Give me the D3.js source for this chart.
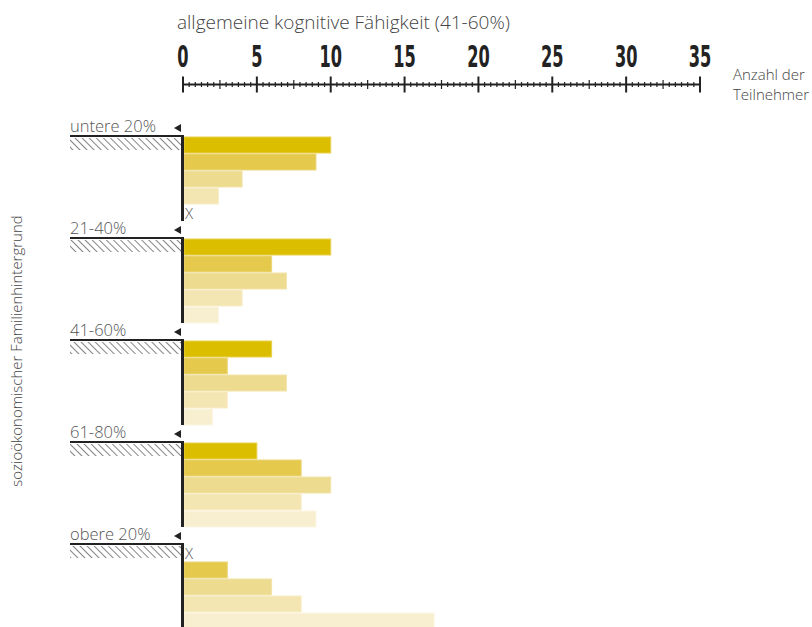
<!DOCTYPE html>
<html><head><meta charset="utf-8">
<script src="https://cdn.jsdelivr.net/npm/d3@7"></script>
<style>
html,body{margin:0;padding:0;background:#fff;}
text{font-family:"Open Sans","Noto Sans",sans-serif;font-weight:300;fill:#444;}
</style></head>
<body>
<svg id="chart" width="812" height="627"></svg>
<script>
const groups = ["untere 20%", "21-40%", "41-60%", "61-80%", "obere 20%"];
const seriesNames = ["q1", "q2", "q3", "q4", "q5"];
const q1 = [10, 10, 6, 5, null];
const q2 = [9, 6, 3, 8, 3];
const q3 = [4, 7, 7, 10, 6];
const q4 = [2.4, 4, 3, 8, 8];
const q5 = [null, 2.4, 2, 9, 17];
const seriesValues = [q1, q2, q3, q4, q5];
const tickValues = [0, 5, 10, 15, 20, 25, 30, 35];
const fills = ["#dbbe00", "#e5c94c", "#eddb8f", "#f4e6b2", "#f8efd1"];
const strokes = ["#e8d14f", "#ecd67c", "#f2e3a9", "#f8edc8", "#fbf5e2"];

const svg = d3.select("#chart");
const x = d3.scaleLinear().domain([0, 35]).range([183, 700]);
const y = d3.scaleBand().domain(groups).range([136, 629]).paddingInner(17 / 102).paddingOuter(0);
const yi = d3.scaleBand().domain(seriesNames).range([0, y.bandwidth()]);

const defs = svg.append("defs");
defs.append("pattern").attr("id", "hatch").attr("patternUnits", "userSpaceOnUse")
  .attr("width", 5).attr("height", 5).attr("patternTransform", "rotate(-45)")
  .append("line").attr("x1", 0).attr("y1", 0).attr("x2", 0).attr("y2", 5)
  .attr("stroke", "#444").attr("stroke-width", 1.3);

svg.append("text").attr("x", 177).attr("y", 29).style("font-size", "19px")
  .text("allgemeine kognitive Fähigkeit (41-60%)");
svg.append("text").attr("x", 733).attr("y", 80).style("font-size", "15px").text("Anzahl der");
svg.append("text").attr("x", 733).attr("y", 100).style("font-size", "15px").text("Teilnehmer");
svg.append("text").attr("transform", "translate(22,351) rotate(-90)").attr("text-anchor", "middle")
  .style("font-size", "15px").text("sozioökonomischer Familienhintergrund");

const axisY = 84.5;
const axisG = svg.append("g");
axisG.append("line").attr("x1", x(0)).attr("x2", x(35)).attr("y1", axisY).attr("y2", axisY)
  .attr("stroke", "#222").attr("stroke-width", 2);
const minorTicks = d3.range(0, 84 + 1).map(i => i * 5 / 12);
axisG.selectAll(".mt").data(minorTicks).enter().append("line")
  .attr("x1", d => x(d)).attr("x2", d => x(d))
  .attr("y1", (d, i) => i % 12 === 0 ? 76.5 : (i % 6 === 0 ? 80 : 82))
  .attr("y2", (d, i) => i % 12 === 0 ? 92.5 : (i % 6 === 0 ? 89 : 87))
  .attr("stroke", "#222").attr("stroke-width", (d, i) => i % 12 === 0 ? 2 : 1.2);
axisG.selectAll(".tl").data(tickValues).enter().append("text")
  .attr("transform", d => `translate(${x(d)},67) scale(0.6,1)`)
  .attr("text-anchor", "middle")
  .style("font-family", "'DejaVu Sans Condensed','DejaVu Sans',sans-serif")
  .style("font-weight", "bold").style("font-size", "30px").style("fill", "#222")
  .text(d => d);

groups.forEach((g, gi) => {
  const y0 = y(g);
  const G = svg.append("g");
  G.append("rect").attr("x", 70).attr("y", y0 + 2).attr("width", 111).attr("height", 12)
    .attr("fill", "url(#hatch)");
  seriesNames.forEach((s, si) => {
    const v = seriesValues[si][gi];
    const yy = y0 + yi(s);
    if (v === null) {
      G.append("text").attr("x", 185).attr("y", yy + 15).style("font-size", "15px")
        .style("fill", "#555").text("X");
    } else {
      G.append("rect").attr("x", x(0) + 1).attr("y", yy + 1).attr("width", x(v) - x(0) - 1)
        .attr("height", yi.bandwidth() - 1)
        .attr("fill", fills[si]).attr("stroke", strokes[si]).attr("stroke-width", 1);
    }
  });
  G.append("line").attr("x1", 70).attr("x2", 184).attr("y1", y0).attr("y2", y0)
    .attr("stroke", "#222").attr("stroke-width", 2);
  G.append("line").attr("x1", 182.5).attr("x2", 182.5).attr("y1", y0 - 1).attr("y2", y0 + y.bandwidth())
    .attr("stroke", "#222").attr("stroke-width", 3);
  G.append("path").attr("d", `M174,${y0 - 8}L181,${y0 - 12}L181,${y0 - 4}Z`).attr("fill", "#222");
  G.append("text").attr("x", 70).attr("y", y0 - 4).style("font-size", "16.5px").style("fill", "#555").text(g);
});
</script>
</body></html>
